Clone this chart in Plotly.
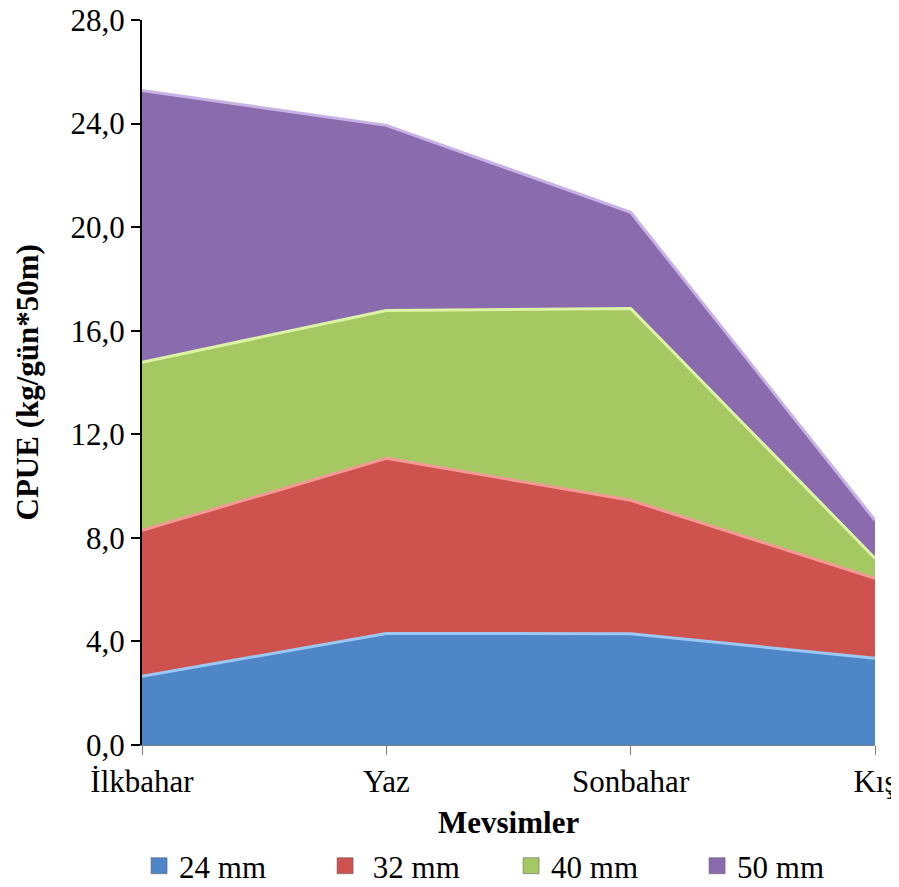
import plotly.graph_objects as go

seasons = ["İlkbahar", "Yaz", "Sonbahar", "Kış"]
s24 = [2.65, 4.31, 4.30, 3.35]
s32 = [5.64, 6.76, 5.15, 3.09]
s40 = [6.49, 5.71, 7.41, 0.77]
s50 = [10.50, 7.15, 3.71, 1.47]
names = ["24 mm", " 32 mm", "40 mm", "50 mm"]
y_ticks = [0, 4, 8, 12, 16, 20, 24, 28]
y_tick_text = ["0,0", "4,0", "8,0", "12,0", "16,0", "20,0", "24,0", "28,0"]

fills = ["#4F86C8", "#CE524D", "#A6C863", "#8A6CAE"]
edges = ["#9CC8F5", "#F49A96", "#DDF3A6", "#C9B2E6"]

FONT = "Liberation Serif, Times New Roman, serif"

fig = go.Figure()
for vals, nm, fc, ec in zip([s24, s32, s40, s50], names, fills, edges):
    fig.add_trace(go.Scatter(
        x=seasons, y=vals, stackgroup="one", mode="lines",
        line=dict(color=ec, width=3), fillcolor=fc,
        showlegend=False, hoverinfo="skip", name=nm,
    ))
for nm, fc in zip(names, fills):
    fig.add_trace(go.Scatter(
        x=[None], y=[None], mode="markers", name=nm,
        marker=dict(symbol="square", size=17, color=fc,
                    line=dict(color="#555555", width=0.5)),
    ))

W, H = 890, 871
fig.update_layout(
    width=W, height=H,
    margin=dict(l=134, r=23, t=12, b=134, autoexpand=False),
    paper_bgcolor="white", plot_bgcolor="white",
    font=dict(family=FONT, size=31, color="black"),
    showlegend=True,
    legend=dict(orientation="h", x=-0.004, xanchor="left", y=-0.167, yanchor="middle",
                xref="paper", yref="paper", traceorder="normal",
                font=dict(size=31), entrywidth=141, entrywidthmode="pixels",
                itemwidth=30, tracegroupgap=0, bgcolor="rgba(0,0,0,0)"),
    xaxis=dict(
        type="category", range=[0, 3], showgrid=False, zeroline=False,
        showline=True, linecolor="#7f7f7f", linewidth=1, automargin=False,
        ticks="outside", ticklen=9, tickcolor="#7f7f7f", tickwidth=1,
        tickfont=dict(size=31), fixedrange=True, ticklabeloverflow="allow",
    ),
    yaxis=dict(
        range=[0, 28], tickvals=y_ticks, ticktext=y_tick_text, automargin=False,
        showgrid=False, zeroline=False, showline=True, linecolor="black", linewidth=2,
        ticks="outside", ticklen=9, tickcolor="black", tickwidth=2,
        tickfont=dict(size=31), fixedrange=True, ticklabeloverflow="allow",
    ),
    annotations=[
        dict(text="<b>CPUE (kg/gün*50m)</b>", xref="paper", yref="paper",
             x=0, y=0.5, xanchor="center", yanchor="middle", xshift=-115,
             textangle=-90, showarrow=False, font=dict(size=31)),
        dict(text="<b>Mevsimler</b>", xref="paper", yref="paper",
             x=0.5, y=0, xanchor="center", yanchor="middle", yshift=-77,
             showarrow=False, font=dict(size=31)),
    ],
)

fig.write_html("out.html")
